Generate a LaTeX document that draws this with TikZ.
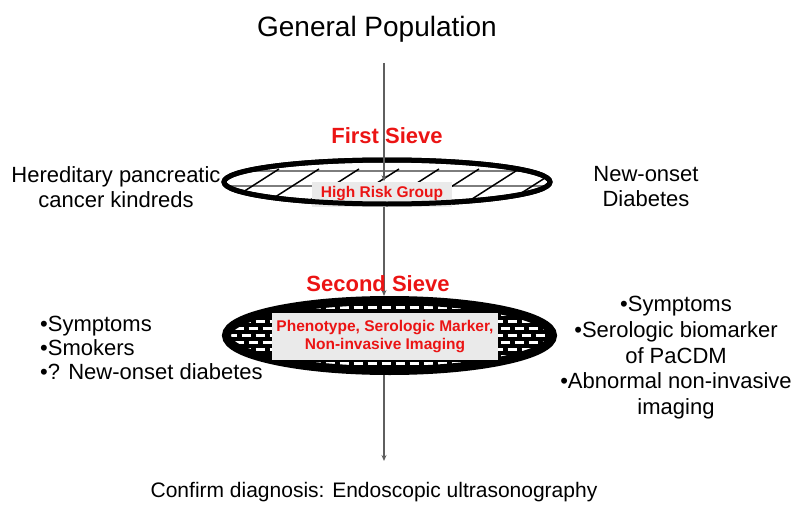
\documentclass[tikz,border=0pt]{standalone}
\usepackage{fontspec}
\setmainfont{Liberation Sans}
\usetikzlibrary{shapes.geometric,arrows.meta}
\definecolor{sred}{RGB}{235,20,20}
\definecolor{boxgray}{RGB}{234,234,234}
\definecolor{linegray}{RGB}{95,95,95}
\definecolor{meshgray}{RGB}{125,125,125}
\begin{document}
\begin{tikzpicture}[x=1pt,y=-1pt,
  txt/.style={inner sep=0pt, font=\fontsize{22}{25}\selectfont},
  redlbl/.style={inner sep=0pt, text=sred, font=\bfseries\fontsize{22}{24}\selectfont},
  lblbox/.style={fill=boxgray, text=sred, inner sep=0pt, align=center,
    font=\bfseries\fontsize{15.5}{17.5}\selectfont},
  arr/.style={draw=linegray, line width=1.1pt, -{Stealth[length=6pt,width=5pt]}},
  sieve/.style={ellipse, inner sep=0pt, draw=black}
]
\useasboundingbox (0,0) rectangle (800,516);

% title and start of the flow line
\node[txt, font=\fontsize{28}{32}\selectfont, anchor=base] (gp) at (377,37) {General Population};
\coordinate (top) at (384,63);

% first sieve (mesh drawn relative to the node centre)
\node[sieve, line width=5pt, minimum width=326pt, minimum height=44pt, path picture={
  \foreach \yy in {-11,4,19} \draw[meshgray, line width=1.8pt] (-190,\yy) -- (190,\yy);
  \foreach \xx in {-260,-220,...,180} \draw[black, line width=1.5pt] (\xx,33) -- ++(72,-46);
}] (s1) at (387,182) {};
\node[lblbox, minimum width=140pt, minimum height=25pt] (hr) at (382,194) {High Risk Group};
\draw[line width=5pt] (s1.center) ellipse [x radius=163pt, y radius=22pt];

% second sieve
\node[sieve, line width=9pt, fill=black, minimum width=326pt, minimum height=70pt, path picture={
  \foreach \yy [count=\i, evaluate=\i as \ph using {mod(\i,2)*7}] in {-35,-28,...,35}
    \draw[white, line width=2.3pt, dash pattern=on 9pt off 5pt, dash phase=\ph pt] (-190,\yy) -- (190,\yy);
}] (s2) at (389.5,335.5) {};
\node[lblbox, minimum width=226pt, minimum height=47pt] (pm) at (385,336.5)
  {Phenotype, Serologic Marker,\\Non-invasive Imaging};

% flow arrows
\coordinate (bot) at (384,461);
\draw[arr] (top) -- (top |- hr.north);
\draw[arr] (top |- s1.south) -- (top |- s2.north);
\draw[arr] (top |- s2.south) -- (bot);

% sieve titles
\node[redlbl, anchor=base] (fs) at (387,143) {First Sieve};
\node[redlbl, anchor=base] (ss) at (378,291) {Second Sieve};

% side texts
\node[txt, align=center] (hp) at (116,187.5) {Hereditary pancreatic\\cancer kindreds};
\node[txt, align=center] (no) at (646,186.5) {New-onset\\Diabetes};
\node[txt, align=left, anchor=north west, font=\fontsize{22}{24}\selectfont] (ll) at (40,316)
  {•Symptoms\\•Smokers\\•? New-onset diabetes};
\node[txt, align=center, anchor=north, font=\fontsize{22}{25.75}\selectfont] (rl) at (676,296)
  {•Symptoms\\•Serologic biomarker\\of PaCDM\\•Abnormal non-invasive\\imaging};

% final step
\node[txt, font=\fontsize{21}{24}\selectfont, anchor=base] (cd) at (374,497)
  {Confirm diagnosis: Endoscopic ultrasonography};
\end{tikzpicture}
\end{document}
